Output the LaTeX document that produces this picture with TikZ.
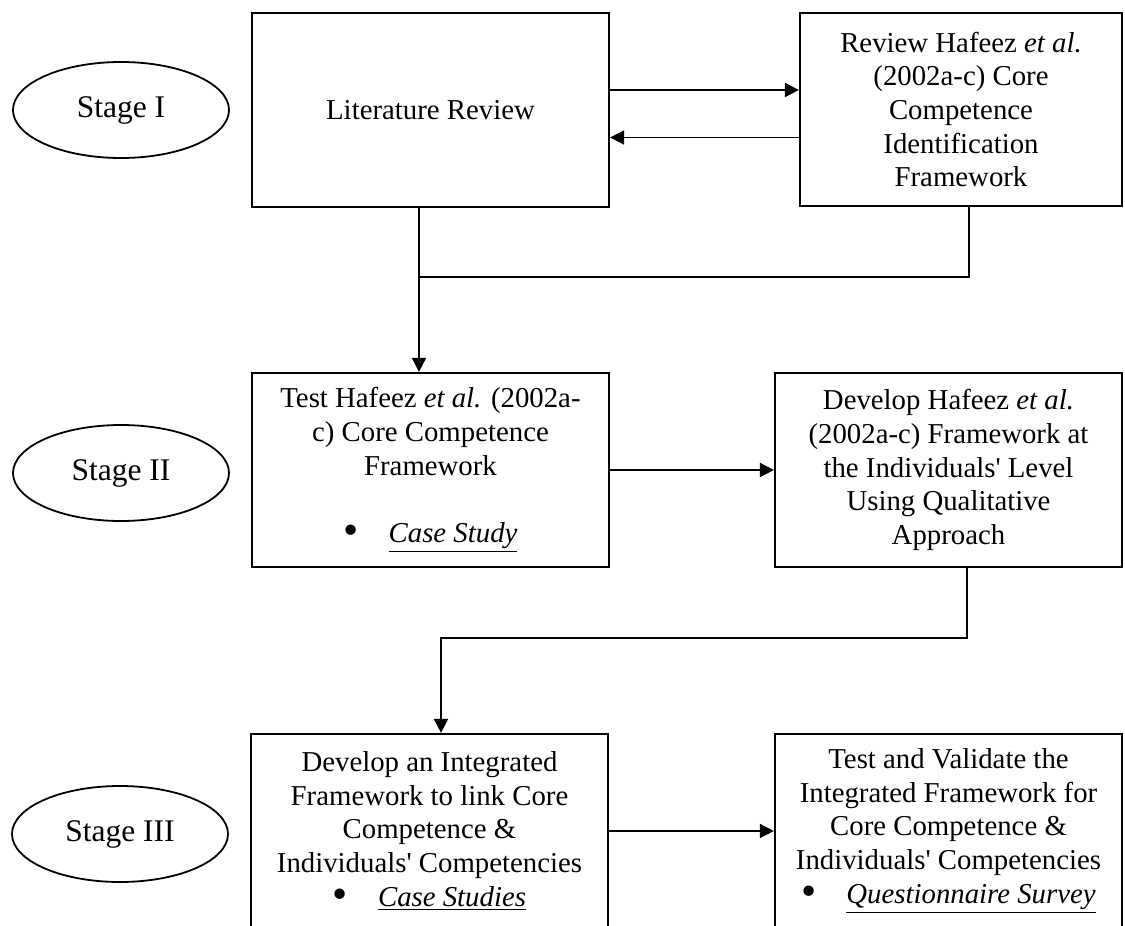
\documentclass[tikz,border=0pt]{standalone}
\usepackage{fontspec}
\setmainfont{Liberation Serif}
\usepackage{tikz}
\usetikzlibrary{arrows.meta, positioning, shapes.geometric}

\newcommand{\apos}{\textquotesingle}
\newcommand{\bullettext}[1]{\raisebox{-1.2pt}{\scalebox{1.5}{•}}\hspace{15pt}\underline{\textit{#1}}}

\begin{document}
\begin{tikzpicture}[
    x=0.5pt, y=-0.5pt,
    box/.style={draw, line width=1.1pt, inner sep=0pt, align=center, minimum height=97pt,
                font=\fontsize{14.4}{16.85}\selectfont},
    stage/.style={draw, line width=0.9pt, ellipse, inner sep=0pt, minimum width=108pt,
                  minimum height=48pt, font=\fontsize{15.75}{18}\selectfont},
    conn/.style={line width=0.9pt},
    >={Triangle[length=7pt, width=7pt]}
]
  \useasboundingbox (0,0) rectangle (1125,926);
  \clip (0,0) rectangle (1125,926);

  % stages
  \node[stage] (st1) at (121,110) {Stage I};
  \node[stage] (st2) at (121,473) {Stage II};
  \node[stage] (st3) at (120,834) {Stage III};

  % stage I
  \node[box, minimum width=178.5pt] (lit) at (430.5,110) {Literature Review};
  \node[box, minimum width=161pt, minimum height=96.5pt] (rev) at (961,109.5)
    {Review Hafeez \textit{et al.}\\(2002a-c) Core\\Competence\\Identification\\Framework};

  % stage II
  \node[box, minimum width=178.5pt] (test) at (430.5,470)
    {Test Hafeez \textit{et al.} (2002a-\\c) Core Competence\\Framework\\[16.85pt]\bullettext{Case Study}};
  \node[box, minimum width=173.5pt] (dev) at (948.5,470)
    {Develop Hafeez \textit{et al.}\\(2002a-c) Framework at\\the Individuals\apos{} Level\\Using Qualitative\\Approach};

  % stage III
  \node[box, minimum width=178.5pt] (integ) at (429.5,831)
    {Develop an Integrated\\Framework to link Core\\Competence \&\\Individuals\apos{} Competencies\\\bullettext{Case Studies}};
  \node[box, minimum width=173.5pt] (val) at (948.5,831)
    {Test and Validate the\\Integrated Framework for\\Core Competence \&\\Individuals\apos{} Competencies\\\bullettext{Questionnaire Survey}};

  % connectors
  \coordinate (m1) at (419,277);
  \coordinate (m1r) at (969,277);
  \coordinate (m2) at (441,638);
  \coordinate (m2r) at (967,638);

  \draw[conn, ->] ([yshift=10pt]lit.east) -- ([yshift=10pt]lit.east -| rev.west);
  \draw[conn, ->] ([yshift=-14pt]rev.west) -- ([yshift=-14pt]rev.west -| lit.east);
  \draw[conn] (rev.south -| m1r) -- (m1r) -- (m1);
  \draw[conn, ->] (lit.south -| m1) -- (test.north -| m1);
  \draw[conn, ->] (test) -- (dev);
  \draw[conn, ->] (dev.south -| m2r) -- (m2r) -- (m2) -- (integ.north -| m2);
  \draw[conn, ->] (integ) -- (val);
\end{tikzpicture}
\end{document}
